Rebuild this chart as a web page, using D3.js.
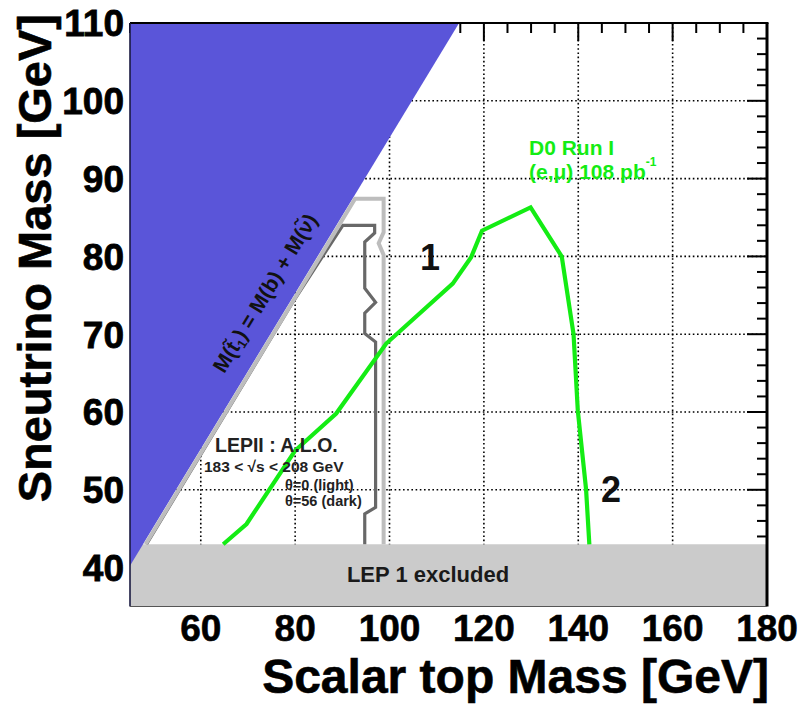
<!DOCTYPE html>
<html>
<head>
<meta charset="utf-8">
<script src="https://cdn.jsdelivr.net/npm/d3@7"></script>
<style>
  html, body { margin: 0; padding: 0; background: #fff; }
  svg text { font-family: "Liberation Sans", Arial, Helvetica, sans-serif; font-weight: bold; }
</style>
</head>
<body>
<svg id="chart" width="801" height="709"></svg>
<script>
// ---------- data ----------
const xDomain = [45, 180];
const yDomain = [35, 110];
const xTickValues = [60, 80, 100, 120, 140, 160, 180];
const yTickValues = [40, 50, 60, 70, 80, 90, 100, 110];
const xGridValues = [60, 80, 100, 120, 140, 160];
const yGridValues = [50, 60, 70, 80, 90, 100];

// kinematic limit M(stop) = M(b) + M(sneutrino)
const bMass = 4.75;
// LEP1 exclusion on sneutrino mass
const lep1Limit = 43;

// D0 Run I (e,mu) 108 pb^-1 contour
const d0Stop = [64.75, 69.7, 80.0, 88.7, 99.3, 113.4, 117.3, 119.6, 129.9, 136.5, 139.0, 139.9, 141.65, 142.35];
const d0Snu  = [43.0, 45.6, 55.05, 59.8, 68.8, 76.5, 79.9, 83.3, 86.3, 80.0, 70.0, 60.2, 50.1, 43.0];

// LEPII ALO, theta = 0 (light)
const lightStop = [48.3, 92.7, 98.75, 98.75, 97.7, 98.75, 98.75];
const lightSnu  = [43.0, 87.4, 87.4, 83.1, 81.7, 80.2, 43.0];

// LEPII ALO, theta = 56 (dark)
const darkStop = [48.5, 79.6, 90.1, 96.85, 96.85, 94.75, 94.75, 97.05, 94.75, 94.75, 97.05, 97.05, 94.75, 94.75];
const darkSnu  = [43.0, 74.2, 84.0, 84.0, 83.0, 81.85, 75.9, 74.1, 72.7, 70.1, 69.0, 47.75, 46.9, 43.0];

// ---------- drawing ----------
const svg = d3.select("#chart");
const x = d3.scaleLinear().domain(xDomain).range([130, 767]);
const y = d3.scaleLinear().domain(yDomain).range([606.5, 23]);

// grid
const grid = svg.append("g");
grid.selectAll("line.vx").data(xGridValues).join("line")
  .attr("x1", d => x(d)).attr("x2", d => x(d))
  .attr("y1", y(yDomain[1])).attr("y2", y(yDomain[0]))
  .attr("stroke", "#000").attr("stroke-width", 1.6).attr("stroke-dasharray", "1.6,2.6");
grid.selectAll("line.hy").data(yGridValues).join("line")
  .attr("y1", d => y(d)).attr("y2", d => y(d))
  .attr("x1", x(xDomain[0])).attr("x2", x(xDomain[1]))
  .attr("stroke", "#000").attr("stroke-width", 1.6).attr("stroke-dasharray", "1.6,2.6");

// top axis ticks (inside)
const gTop = svg.append("g").attr("transform", `translate(0,${y(yDomain[1])})`);
gTop.selectAll("line.t").data(d3.range(45, 181, 5)).join("line")
  .attr("x1", d => x(d)).attr("x2", d => x(d))
  .attr("y1", 0).attr("y2", d => d % 20 === 0 ? 18 : 10)
  .attr("stroke", "#000").attr("stroke-width", 2);

// right axis ticks (inside)
const gRight = svg.append("g").attr("transform", `translate(${x(xDomain[1])},0)`);
gRight.selectAll("line.t").data(d3.range(36, 111, 2)).join("line")
  .attr("y1", d => y(d)).attr("y2", d => y(d))
  .attr("x1", 0).attr("x2", d => d % 10 === 0 ? -20 : -10)
  .attr("stroke", "#000").attr("stroke-width", 2);

// LEP1 excluded band
svg.append("rect")
  .attr("x", x(xDomain[0])).attr("y", y(lep1Limit))
  .attr("width", x(xDomain[1]) - x(xDomain[0]))
  .attr("height", y(yDomain[0]) - y(lep1Limit))
  .attr("fill", "#cbcbcb");

// kinematically forbidden region
const kin = [[xDomain[0], xDomain[0] - bMass], [yDomain[1] + bMass, yDomain[1]], [xDomain[0], yDomain[1]]];
svg.append("path")
  .attr("d", d3.line().x(d => x(d[0])).y(d => y(d[1]))(kin) + "Z")
  .attr("fill", "#5a55d9");

const line = d3.line().x(d => x(d[0])).y(d => y(d[1]));

// dark contour
svg.append("path")
  .attr("d", line(d3.zip(darkStop, darkSnu)))
  .attr("fill", "none").attr("stroke", "#686868").attr("stroke-width", 3.2)
  .attr("stroke-linejoin", "miter");
// light contour
svg.append("path")
  .attr("d", line(d3.zip(lightStop, lightSnu)))
  .attr("fill", "none").attr("stroke", "#bdbdbd").attr("stroke-width", 4)
  .attr("stroke-linejoin", "miter");
// D0 contour
svg.append("path")
  .attr("d", line(d3.zip(d0Stop, d0Snu)))
  .attr("fill", "none").attr("stroke", "#14ec14").attr("stroke-width", 4.2)
  .attr("stroke-linejoin", "miter");

// frame
svg.append("line").attr("x1", x(xDomain[0])).attr("x2", x(xDomain[1]) + 1.5)
  .attr("y1", y(yDomain[1])).attr("y2", y(yDomain[1])).attr("stroke", "#000").attr("stroke-width", 2);
svg.append("line").attr("x1", x(xDomain[1])).attr("x2", x(xDomain[1]))
  .attr("y1", y(yDomain[1])).attr("y2", y(yDomain[0])).attr("stroke", "#000").attr("stroke-width", 3);
svg.append("line").attr("x1", x(xDomain[0])).attr("x2", x(xDomain[0]))
  .attr("y1", y(yDomain[1])).attr("y2", y(yDomain[0])).attr("stroke", "#1a1a40").attr("stroke-width", 1.6);
svg.append("line").attr("x1", x(xDomain[0])).attr("x2", x(xDomain[1]))
  .attr("y1", y(yDomain[0])).attr("y2", y(yDomain[0])).attr("stroke", "#555").attr("stroke-width", 1.2);

// tick labels
svg.append("g").selectAll("text").data(xTickValues).join("text")
  .attr("x", d => x(d)).attr("y", 641)
  .attr("text-anchor", "middle").attr("font-size", 37).attr("fill", "#000")
  .attr("stroke", "#000").attr("stroke-width", 0.6)
  .text(d => d);
svg.append("g").selectAll("text").data(yTickValues).join("text")
  .attr("x", 124).attr("y", d => y(d)).attr("dy", "0.36em")
  .attr("text-anchor", "end").attr("font-size", 37).attr("fill", "#000")
  .attr("stroke", "#000").attr("stroke-width", 0.8)
  .text(d => d);

// axis titles
svg.append("text").attr("x", 769).attr("y", 693).attr("text-anchor", "end")
  .attr("font-size", 48).attr("fill", "#000")
  .attr("stroke", "#000").attr("stroke-width", 0.6)
  .text("Scalar top Mass [GeV]");
svg.append("text").attr("transform", "translate(51,14) rotate(-90)")
  .attr("text-anchor", "end").attr("font-size", 47).attr("fill", "#000")
  .attr("stroke", "#000").attr("stroke-width", 0.6)
  .text("Sneutrino Mass [GeV]");

// annotations
svg.append("text").attr("x", 428).attr("y", 581.5).attr("text-anchor", "middle")
  .attr("font-size", 22).attr("fill", "#1a1a1a").text("LEP 1 excluded");

svg.append("text").attr("x", 430).attr("y", 270).attr("text-anchor", "middle")
  .attr("font-size", 36).attr("fill", "#111").text("1");
svg.append("text").attr("x", 611).attr("y", 502).attr("text-anchor", "middle")
  .attr("font-size", 36).attr("fill", "#111").text("2");

svg.append("text").attr("x", 529).attr("y", 155)
  .attr("font-size", 21).attr("fill", "#14ec14").text("D0 Run I");
const d0t = svg.append("text").attr("x", 529).attr("y", 179)
  .attr("font-size", 21).attr("fill", "#14ec14");
d0t.append("tspan").text("(e,μ) 108 pb");
d0t.append("tspan").attr("font-size", 12).attr("dy", -13).text("-1");

svg.append("text").attr("x", 215).attr("y", 452)
  .attr("font-size", 19.5).attr("fill", "#222").text("LEPII : A.L.O.");
svg.append("text").attr("x", 204).attr("y", 472)
  .attr("font-size", 15.5).attr("fill", "#222").text("183 < √s < 208 GeV");
svg.append("text").attr("x", 285).attr("y", 489.5)
  .attr("font-size", 14.5).attr("fill", "#222").text("θ=0 (light)");
svg.append("text").attr("x", 285).attr("y", 505.5)
  .attr("font-size", 14.5).attr("fill", "#222").text("θ=56 (dark)");

// rotated kinematic-limit label
const ang = -Math.atan2(y(60) - y(70), x(70) - x(60)) * 180 / Math.PI;
const rot = svg.append("text")
  .attr("transform", `translate(265,293) rotate(${ang})`)
  .attr("text-anchor", "middle").attr("dy", "0.35em")
  .attr("font-size", 21).attr("fill", "#111");
rot.append("tspan").text("M(t\u0303");
rot.append("tspan").attr("font-size", 13).attr("dy", 4).text("1");
rot.append("tspan").attr("dy", -4).text(") = M(b) + M(ν\u0303)");
</script>
</body>
</html>
